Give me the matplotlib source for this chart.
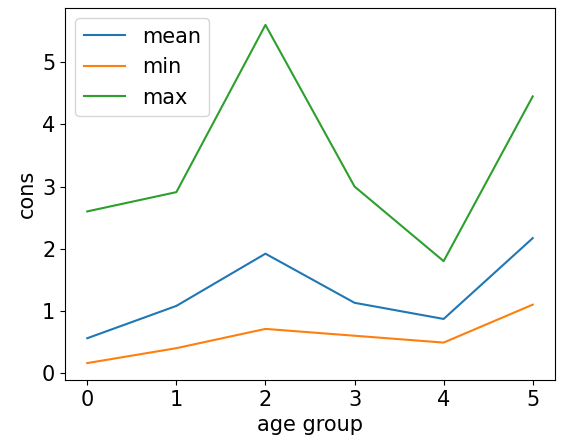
import matplotlib
matplotlib.use("Agg")
import matplotlib.pyplot as plt

groups = [0, 1, 2, 3, 4, 5]
mean_vals = [0.56, 1.08, 1.92, 1.13, 0.87, 2.17]
min_vals = [0.16, 0.40, 0.71, 0.60, 0.49, 1.10]
max_vals = [2.60, 2.91, 5.60, 3.00, 1.80, 4.45]

plt.rcParams['font.size'] = 15
fig = plt.figure(figsize=(5.64, 4.44), dpi=100)
ax = fig.add_axes([65/564, 1-380/444, 490/564, 372/444])
ax.plot(groups, mean_vals, label="mean")
ax.plot(groups, min_vals, label="min")
ax.plot(groups, max_vals, label="max")
ax.set_xlabel("age group")
ax.set_ylabel("cons")
ax.legend(loc="upper left")
fig.savefig("out.png", dpi=100)
